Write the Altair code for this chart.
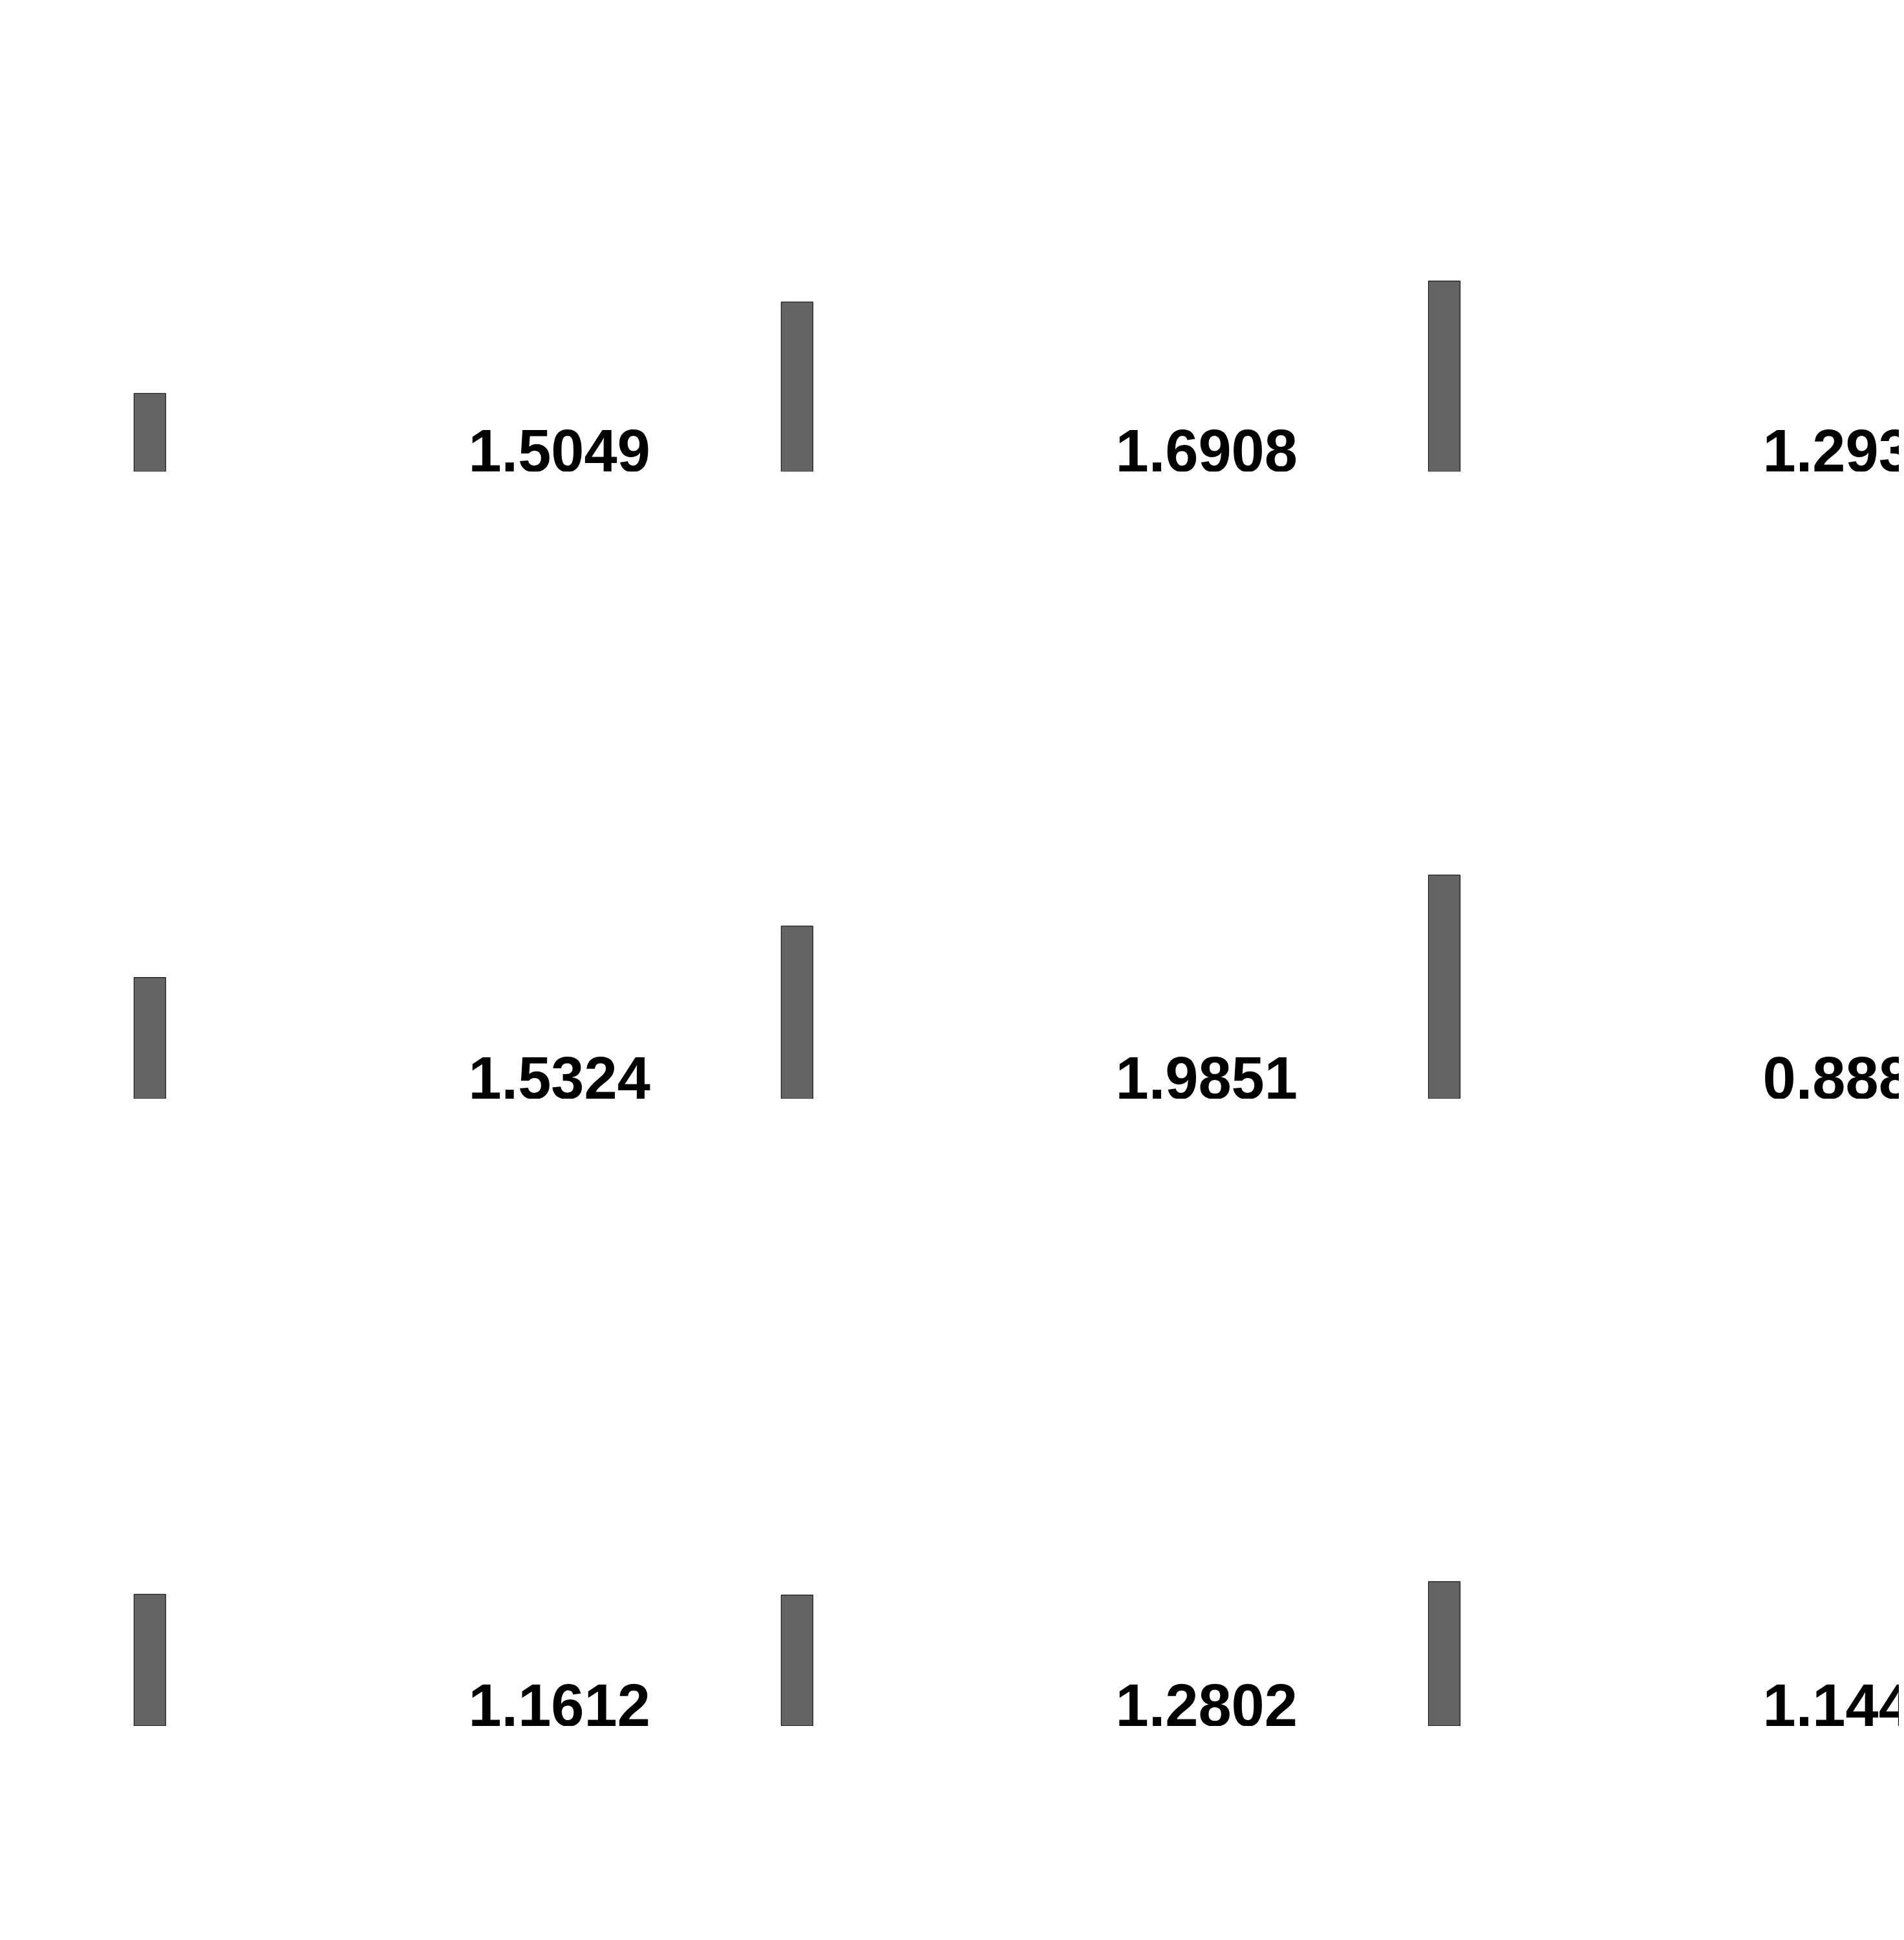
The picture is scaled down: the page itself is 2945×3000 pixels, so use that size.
import altair as alt
import pandas as pd

# ---- data ----
columns = [0, 1, 2, 3]
row1_values = [0.694, 1.5049, 1.6908, 1.2935]
row2_values = [1.076, 1.5324, 1.9851, 0.8884]
row3_values = [1.168, 1.1612, 1.2802, 1.1446]
rows = [row1_values, row2_values, row3_values]

# ---- layout ----
W = 2929
H = 721.3
PX_PER_UNIT = 174.3
COL_STEP = 1004.5
FIRST_COL = 219.5
x_dom = [-FIRST_COL / COL_STEP, (W - FIRST_COL) / COL_STEP]
y_dom = [0, H / PX_PER_UNIT]


def panel(vals):
    df = pd.DataFrame({"col": columns, "value": vals})
    base = alt.Chart(df)
    xenc = alt.X("col:Q", scale=alt.Scale(domain=x_dom, nice=False, zero=False), axis=None)
    yscale = alt.Scale(domain=y_dom, nice=False, zero=True)
    bars = base.mark_bar(
        size=49, color="#646464", stroke="black", strokeWidth=1, clip=True
    ).encode(
        x=xenc,
        y=alt.Y("value:Q", scale=yscale, axis=None),
    )
    labels = base.mark_text(
        align="right",
        baseline="alphabetic",
        dx=-227,
        font="Liberation Sans",
        fontWeight="bold",
        fontSize=92,
        color="black",
        clip=True,
    ).encode(
        x=xenc,
        y=alt.Y(datum=0, scale=yscale, axis=None),
        text=alt.Text("value:Q", format=".4f"),
    )
    return alt.layer(bars, labels).properties(width=W, height=H)


chart = alt.vconcat(*[panel(r) for r in rows], spacing=247.8).properties(
    padding=0
).configure_view(stroke=None)

chart.save("out.html", embed_options={"renderer": "svg", "actions": False})
